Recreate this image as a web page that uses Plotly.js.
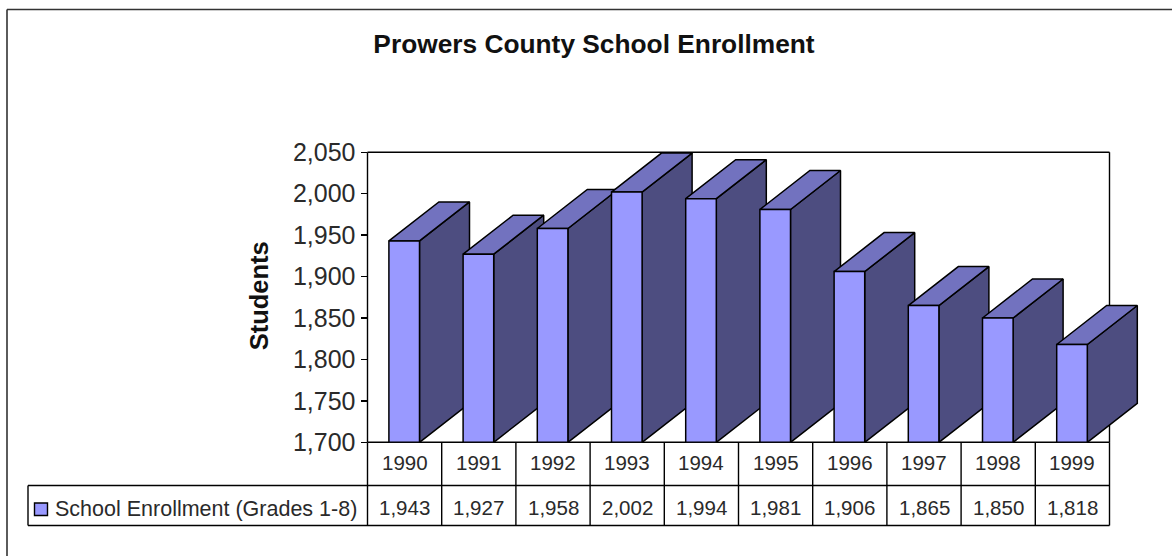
<!DOCTYPE html>
<html><head><meta charset="utf-8">
<script src="https://cdn.plot.ly/plotly-3.0.1.min.js"></script>
<style>html,body{margin:0;padding:0;background:#fff}#chart{width:1172px;height:556px}</style>
</head><body><div id="chart"></div>
<script>
const years = ['1990','1991','1992','1993','1994','1995','1996','1997','1998','1999'];
const students = [1943,1927,1958,2002,1994,1981,1906,1865,1850,1818];
const seriesName = 'School Enrollment (Grades 1-8)';
const chartTitle = 'Prowers County School Enrollment';
const yTitle = 'Students';
const yTicks = [1700,1750,1800,1850,1900,1950,2000,2050];

const W = 1172, H = 556;
const L = 367.5, R = 1109.5, T = 152.3, B = 442.3;
const EXT = 1145;
const cell = (R - L) / 10;
const px = v => v / W, py = v => 1 - v / H;
const FONT = 'Liberation Sans, Arial, sans-serif';
const INK = '#2a2a2a';
const BASE = 1700, TOP = 2050;
const TOPEXT = TOP + 3 * (TOP - BASE) / (B - T);
const TOPPX = T - 3;
const halfW = 15.3 / cell;
const barShift = -0.4 / cell;
const depthX = 50 / cell;
const depthY = 39 * (TOP - BASE) / (B - T);
const edge = {color: '#000', width: 1.5};

function face(xs, ys, fill) {
  return {type: 'scatter', mode: 'lines', x: xs.concat(xs[0]), y: ys.concat(ys[0]),
    fill: 'toself', fillcolor: fill, line: edge, hoverinfo: 'skip', showlegend: false};
}
const traces = [];
students.forEach((v, i) => {
  const c = i + 0.5 + barShift, a = c - halfW, b = c + halfW;
  traces.push(face([b, b + depthX, b + depthX, b], [BASE, BASE + depthY, v + depthY, v], '#4d4d80'));
  traces.push(face([a, b, b + depthX, a + depthX], [v, v, v + depthY, v + depthY], '#7272bf'));
  traces.push(face([a, b, b, a], [BASE, BASE, v, v], '#9999ff'));
});

const lineStyle = {color: '#000', width: 1.4};
const shapes = [];
const hline = (x0, x1, y) => shapes.push({type: 'line', xref: 'paper', yref: 'paper', x0: px(x0), x1: px(x1), y0: py(y), y1: py(y), line: lineStyle, layer: 'below'});
const vline = (x, y0, y1) => shapes.push({type: 'line', xref: 'paper', yref: 'paper', x0: px(x), x1: px(x), y0: py(y0), y1: py(y1), line: lineStyle, layer: 'below'});
// plot frame
hline(L, R, T);
hline(L, R, B);
vline(R, T, B);
vline(L, T, B);
// data table
hline(28, R, 485.5);
hline(28, R, 525.5);
vline(28, 485.5, 525.5);
for (let i = 0; i <= 10; i++) vline(L + i * cell, B, 525.5);
// outer frame
shapes.push({type: 'line', xref: 'paper', yref: 'paper', x0: px(7), x1: px(7), y0: py(9.5), y1: 0, line: {color: '#333', width: 1.6}});
shapes.push({type: 'line', xref: 'paper', yref: 'paper', x0: px(7), x1: 1, y0: py(9.5), y1: py(9.5), line: {color: '#333', width: 1.6}});
// legend key
shapes.push({type: 'rect', xref: 'paper', yref: 'paper', x0: px(34.5), x1: px(47.5), y0: py(503), y1: py(515.5), fillcolor: '#9999ff', line: {color: '#000', width: 1.4}});

const annotations = [];
const cellText = (text, x, y, anchor, size) => annotations.push({text, xref: 'paper', yref: 'paper', x: px(x), y: py(y), xanchor: anchor || 'center', yanchor: 'middle', showarrow: false, font: {family: FONT, size: size || 20.5, color: INK}});
years.forEach((y, i) => cellText(y, L + (i + 0.5) * cell, 462.5));
students.forEach((v, i) => cellText(v.toLocaleString('en-US'), L + (i + 0.5) * cell, 507));
cellText(seriesName, 52.5, 509, 'left', 21.5);

const layout = {
  width: W, height: H, margin: {l: 0, r: 0, t: 0, b: 0},
  paper_bgcolor: '#fff', plot_bgcolor: '#fff', showlegend: false,
  title: {text: '<b>' + chartTitle + '</b>', x: 594 / W, xanchor: 'center', y: py(44), yanchor: 'middle', font: {family: FONT, size: 26.3, color: '#111'}},
  xaxis: {domain: [px(L), px(EXT)], range: [0, (EXT - L) / cell], showticklabels: false, ticks: '', showgrid: false, zeroline: false, showline: false, fixedrange: true},
  yaxis: {domain: [py(B), py(TOPPX)], range: [BASE, TOPEXT], tickvals: yTicks, tickformat: ',', ticks: 'outside', ticklen: 6, tickcolor: '#000', tickwidth: 1.4, showgrid: false, zeroline: false, showline: false, tickfont: {family: FONT, size: 25, color: INK},
    title: {text: '<b>' + yTitle + '</b>', standoff: 17, font: {family: FONT, size: 25.5, color: '#111'}}, automargin: false, fixedrange: true},
  shapes, annotations
};
Plotly.newPlot('chart', traces, layout, {displayModeBar: false, staticPlot: true});
</script></body></html>
